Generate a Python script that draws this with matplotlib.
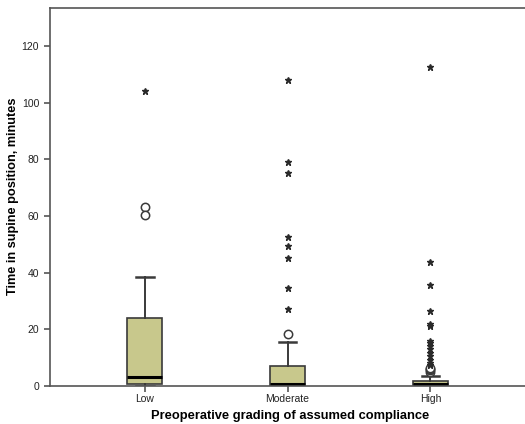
import matplotlib
matplotlib.use("Agg")
import matplotlib.pyplot as plt

plt.rcParams["font.family"] = ["Liberation Sans", "DejaVu Sans"]

# group labels and box summaries (minutes)
groups = ["Low", "Moderate", "High"]
whisker_low = [0.0, 0.0, 0.0]
q1 = [0.8, 0.1, 0.2]
median = [3.2, 0.8, 0.6]
q3 = [24.0, 6.9, 1.8]
whisker_high = [38.5, 15.5, 3.5]

# outliers: circles (mild) and stars (extreme)
circles_low = [63.0, 60.5]
stars_low = [104.0]
circles_mod = [18.5]
stars_mod = [27.0, 34.5, 45.0, 49.5, 52.5, 75.0, 79.0, 108.0]
circles_high = [5.0, 5.5, 6.0, 6.5]
stars_high = [7.3, 8.2, 9.3, 10.5, 11.8, 13.0, 14.0, 15.0, 16.0,
              21.0, 21.8, 26.5, 35.7, 43.8, 112.5]

BOX_COLOR = "#c8c88c"
EDGE = "#3a3a3a"

fig = plt.figure(figsize=(5.25, 4.24), dpi=100)
ax = fig.add_axes([0.0943, 0.0896, 0.91, 0.8924])

stats = []
for i, g in enumerate(groups):
    stats.append({
        "label": g,
        "whislo": whisker_low[i],
        "q1": q1[i],
        "med": median[i],
        "q3": q3[i],
        "whishi": whisker_high[i],
    })

ax.bxp(
    stats,
    positions=[1, 2, 3],
    widths=0.25,
    patch_artist=True,
    showfliers=False,
    boxprops=dict(facecolor=BOX_COLOR, edgecolor=EDGE, linewidth=1.2),
    medianprops=dict(color="black", linewidth=2.2),
    whiskerprops=dict(color=EDGE, linewidth=1.4),
    capprops=dict(color=EDGE, linewidth=1.8),
    capwidths=0.125,
)

circle_sets = [circles_low, circles_mod, circles_high]
star_sets = [stars_low, stars_mod, stars_high]
for i in range(3):
    ax.plot([i + 1] * len(circle_sets[i]), circle_sets[i], "o",
            markerfacecolor="white", markeredgecolor=EDGE,
            markersize=6, markeredgewidth=1.1, linestyle="none")
    ax.plot([i + 1] * len(star_sets[i]), star_sets[i], "*",
            color="#2a2a2a", markersize=5, linestyle="none")

ax.set_xlim(0.335, 3.677)
ax.set_ylim(0, 133.5)
ax.set_yticks([0, 20, 40, 60, 80, 100, 120])
ax.set_xticks([1, 2, 3])
ax.set_xticklabels(groups)

for s in ["left", "bottom", "top"]:
    ax.spines[s].set_color("#555555")
    ax.spines[s].set_linewidth(1.2)
ax.spines["right"].set_visible(False)

ax.tick_params(axis="both", colors="#555555", labelcolor="#222222",
               labelsize=7.5, length=4, width=1.2)
ax.tick_params(axis="x", pad=2)

fig.text(0.024, 0.537, "Time in supine position, minutes", fontsize=9.2,
         fontweight="bold", rotation=90, ha="center", va="center")
fig.text(0.552, 0.018, "Preoperative grading of assumed compliance",
         fontsize=9.3, fontweight="bold", ha="center", va="center")

fig.savefig("out.png", dpi=100)
